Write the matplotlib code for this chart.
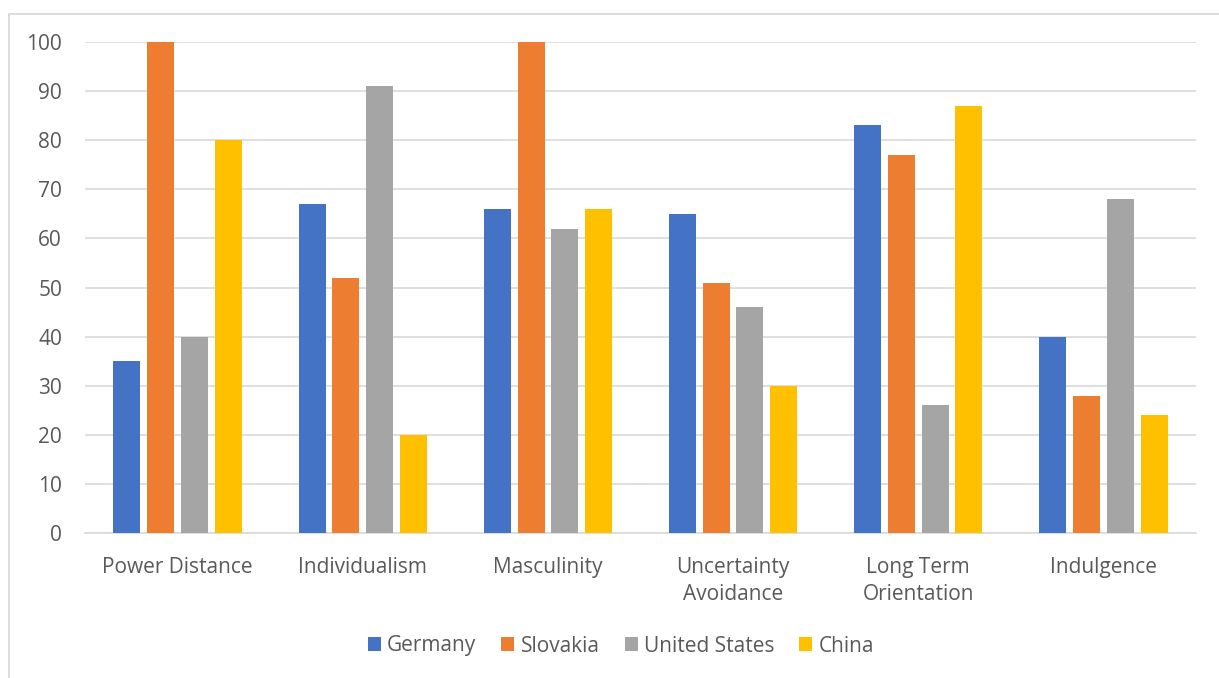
import matplotlib
matplotlib.use("Agg")
import matplotlib.pyplot as plt
import numpy as np
from matplotlib.patches import Rectangle

categories = ["Power Distance", "Individualism", "Masculinity",
              "Uncertainty\nAvoidance", "Long Term\nOrientation", "Indulgence"]
series_names = ["Germany", "Slovakia", "United States", "China"]
germany = [35, 67, 66, 65, 83, 40]
slovakia = [100, 52, 100, 51, 77, 28]
united_states = [40, 91, 62, 46, 26, 68]
china = [80, 20, 66, 30, 87, 24]
yticks = [0, 10, 20, 30, 40, 50, 60, 70, 80, 90, 100]

colors = ["#4472C4", "#ED7D31", "#A5A5A5", "#FFC000"]
values = [germany, slovakia, united_states, china]

plt.rcParams['font.family'] = ['Open Sans', 'DejaVu Sans']
W, H = 1219, 678
fig = plt.figure(figsize=(W / 100, H / 100), dpi=100)

# chart border
fig.patches.append(Rectangle((8.5 / W, -0.01), 1.05, (H - 13.5) / H + 0.01,
                             transform=fig.transFigure, fill=False,
                             edgecolor="#D9D9D9", linewidth=1.3))

ax = fig.add_axes([85 / W, 1 - 533 / H, (1196 - 85) / W, (533 - 42) / H])
x = np.arange(len(categories))
bw = 27 / 185
step = 33.7 / 185
for i, (name, vals, c) in enumerate(zip(series_names, values, colors)):
    ax.bar(x + (i - 1.5) * step, vals, width=bw, color=c, label=name, zorder=3)

ax.set_xlim(-0.5, len(categories) - 0.5)
ax.set_ylim(0, 100)
ax.set_yticks(yticks)
ax.set_yticklabels([str(t) for t in yticks], fontsize=15, color="#595959")
ax.set_xticks(x)
ax.set_xticklabels(categories, fontsize=15, color="#595959", linespacing=1.38)
ax.tick_params(axis="both", length=0)
ax.tick_params(axis="y", pad=16.5)
ax.tick_params(axis="x", pad=17)
ax.grid(axis="y", color="#D9D9D9", linewidth=1.2, zorder=0)
for s in ["top", "right", "left"]:
    ax.spines[s].set_visible(False)
ax.spines["bottom"].set_color("#D9D9D9")
ax.spines["bottom"].set_linewidth(1.2)

leg = fig.legend(loc="center", bbox_to_anchor=(621 / W, 1 - 646 / H), ncol=4,
                 frameon=False, fontsize=15, handlelength=0.62, handleheight=0.62,
                 handletextpad=0.3, columnspacing=1.2)
for t in leg.get_texts():
    t.set_color("#595959")

fig.savefig("out.png", dpi=100)
